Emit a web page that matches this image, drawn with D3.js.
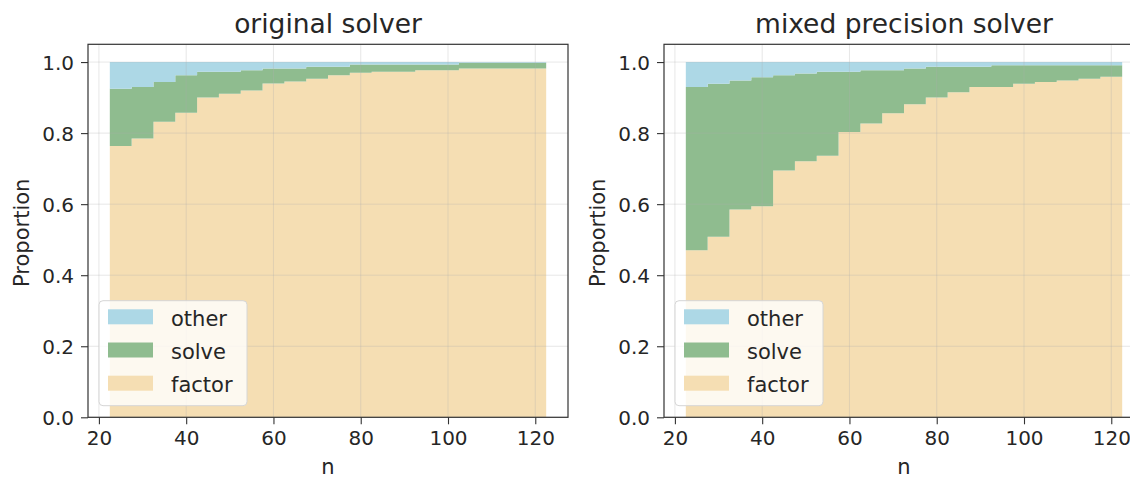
<!DOCTYPE html>
<html>
<head>
<meta charset="utf-8">
<script src="https://cdn.jsdelivr.net/npm/d3@7"></script>
<style>
  body { margin: 0; background: #fff; }
  text { font-family: "DejaVu Sans", sans-serif; fill: #262626; }
</style>
</head>
<body>
<div id="root"></div>
<script>
// bin centres (width 5)
const nValues = [25, 30, 35, 40, 45, 50, 55, 60, 65, 70, 75, 80, 85, 90, 95, 100, 105, 110, 115, 120]

const originalFactor = [0.764, 0.785, 0.832, 0.857, 0.900, 0.911, 0.920, 0.940, 0.945, 0.953,
  0.963, 0.970, 0.973, 0.973, 0.977, 0.977, 0.982, 0.982, 0.982, 0.982]
const originalSolve = [0.161, 0.145, 0.112, 0.106, 0.073, 0.062, 0.057, 0.042, 0.037, 0.034,
  0.024, 0.023, 0.020, 0.020, 0.016, 0.016, 0.016, 0.016, 0.016, 0.016]
const originalOther = [0.075, 0.070, 0.056, 0.037, 0.027, 0.027, 0.023, 0.018, 0.018, 0.013,
  0.013, 0.007, 0.007, 0.007, 0.007, 0.007, 0.002, 0.002, 0.002, 0.002]

const mixedFactor = [0.470, 0.508, 0.585, 0.594, 0.695, 0.721, 0.736, 0.803, 0.827, 0.856,
  0.881, 0.900, 0.915, 0.930, 0.930, 0.939, 0.944, 0.948, 0.953, 0.959]
const mixedSolve = [0.460, 0.431, 0.363, 0.363, 0.268, 0.247, 0.237, 0.170, 0.150, 0.121,
  0.101, 0.087, 0.072, 0.057, 0.061, 0.052, 0.047, 0.043, 0.038, 0.032]
const mixedOther = [0.070, 0.061, 0.052, 0.043, 0.037, 0.032, 0.027, 0.027, 0.023, 0.023,
  0.018, 0.013, 0.013, 0.013, 0.009, 0.009, 0.009, 0.009, 0.009, 0.009]

const seriesKeys = ['factor', 'solve', 'other']
const colors = { factor: '#f5deb3', solve: '#8fbc8f', other: '#add8e6' }
const binWidth = 5

const xTicks = [20, 40, 60, 80, 100, 120]
const yTicks = [0, 0.2, 0.4, 0.6, 0.8, 1.0]

const panels = [
  { title: 'original solver', left: 88, factor: originalFactor, solve: originalSolve, other: originalOther },
  { title: 'mixed precision solver', left: 664, factor: mixedFactor, solve: mixedSolve, other: mixedOther }
]

const W = 1130, H = 478
const plotTop = 44.3, plotBottom = 417.3, panelW = 480

const svg = d3.select('#root').append('svg')
  .attr('width', W)
  .attr('height', H)

panels.forEach(drawPanel)

function drawPanel(p) {
  const x = d3.scaleLinear().domain([17.5, 127.5]).range([p.left, p.left + panelW])
  const y = d3.scaleLinear().domain([0, 1.05]).range([plotBottom, plotTop])

  // rows with left bin edges, plus a closing edge for the step curve
  const rows = nValues.map((n, i) => ({ edge: n - binWidth / 2, factor: p.factor[i], solve: p.solve[i], other: p.other[i] }))
  const last = rows[rows.length - 1]
  rows.push(Object.assign({}, last, { edge: nValues[nValues.length - 1] + binWidth / 2 }))

  const stacked = d3.stack().keys(seriesKeys)(rows)

  const area = d3.area()
    .curve(d3.curveStepAfter)
    .x(d => x(d.data.edge))
    .y0(d => y(d[0]))
    .y1(d => y(d[1]))

  const g = svg.append('g')

  g.selectAll('path.layer')
    .data(stacked)
    .join('path')
    .attr('class', 'layer')
    .attr('d', area)
    .attr('fill', d => colors[d.key])

  // grid on top of fills, faint
  const grid = g.append('g')
    .attr('stroke', '#b0b0b0')
    .attr('stroke-opacity', 0.3)
    .attr('stroke-width', 1)
  grid.selectAll('line.gx')
    .data(xTicks)
    .join('line')
    .attr('class', 'gx')
    .attr('x1', d => x(d)).attr('x2', d => x(d))
    .attr('y1', plotTop).attr('y2', plotBottom)
  grid.selectAll('line.gy')
    .data(yTicks)
    .join('line')
    .attr('class', 'gy')
    .attr('x1', p.left).attr('x2', p.left + panelW)
    .attr('y1', d => y(d)).attr('y2', d => y(d))

  // axes
  const xAxis = g.append('g')
    .attr('transform', `translate(0,${plotBottom})`)
    .call(d3.axisBottom(x).tickValues(xTicks).tickSize(7).tickPadding(7).tickFormat(d3.format('d')))
  const yAxis = g.append('g')
    .attr('transform', `translate(${p.left},0)`)
    .call(d3.axisLeft(y).tickValues(yTicks).tickSize(7).tickPadding(7).tickFormat(d3.format('.1f')))

  ;[xAxis, yAxis].forEach(a => {
    a.select('.domain').remove()
    a.selectAll('line').attr('stroke', '#333').attr('stroke-width', 1.1)
    a.selectAll('text')
      .attr('fill', '#262626')
      .style('font-family', '"DejaVu Sans", sans-serif')
      .style('font-size', '20px')
  })
  yAxis.selectAll('text').attr('dy', '0.36em')

  // frame
  g.append('rect')
    .attr('x', p.left)
    .attr('y', plotTop)
    .attr('width', panelW)
    .attr('height', plotBottom - plotTop)
    .attr('fill', 'none')
    .attr('stroke', '#333')
    .attr('stroke-width', 1.2)

  const cx = p.left + panelW / 2

  g.append('text')
    .attr('x', cx)
    .attr('y', 33)
    .attr('text-anchor', 'middle')
    .style('font-size', '26.5px')
    .text(p.title)

  g.append('text')
    .attr('x', cx)
    .attr('y', 474)
    .attr('text-anchor', 'middle')
    .style('font-size', '21px')
    .text('n')

  g.append('text')
    .attr('transform', `translate(${p.left - 59.5},${(plotTop + plotBottom) / 2 + 2}) rotate(-90)`)
    .attr('text-anchor', 'middle')
    .style('font-size', '21px')
    .text('Proportion')

  // legend
  const lg = g.append('g')
    .attr('transform', `translate(${p.left + 11},${plotBottom - 11.6 - 105})`)
  lg.append('rect')
    .attr('width', 148)
    .attr('height', 105)
    .attr('rx', 4)
    .attr('fill', '#fff')
    .attr('fill-opacity', 0.8)
    .attr('stroke', '#d6d6d6')
    .attr('stroke-width', 1)

  const legendKeys = ['other', 'solve', 'factor']
  const item = lg.selectAll('g.item')
    .data(legendKeys)
    .join('g')
    .attr('class', 'item')
    .attr('transform', (d, i) => `translate(9,${8.6 + i * 33.2})`)
  item.append('rect')
    .attr('width', 45)
    .attr('height', 15)
    .attr('fill', d => colors[d])
  item.append('text')
    .attr('x', 63)
    .attr('y', 16.5)
    .style('font-size', '21px')
    .text(d => d)
}
</script>
</body>
</html>
